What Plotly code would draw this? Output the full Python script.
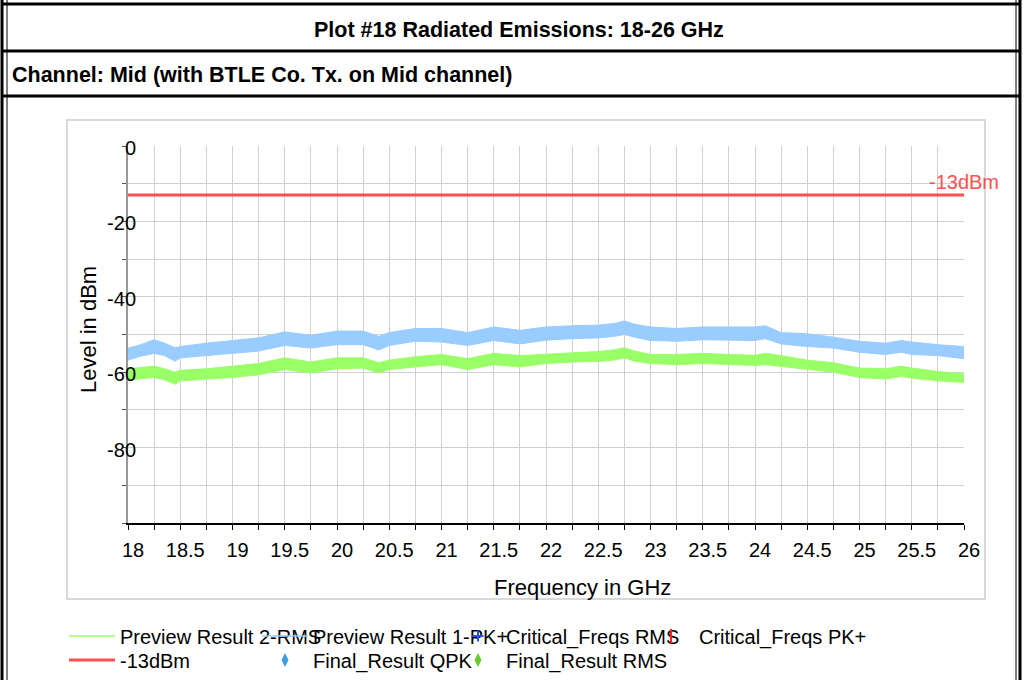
import plotly.graph_objects as go

# ---------------- data ----------------
freq_ghz = [18.0, 18.1, 18.25, 18.35, 18.45, 18.5, 18.75, 19.0, 19.25, 19.5, 19.75,
            20.0, 20.25, 20.4, 20.5, 20.75, 21.0, 21.25, 21.5, 21.75, 22.0, 22.25,
            22.5, 22.65, 22.75, 22.85, 23.0, 23.25, 23.5, 23.75, 24.0, 24.1, 24.25,
            24.5, 24.75, 25.0, 25.25, 25.4, 25.5, 25.75, 26.0]

# Preview Result 1-PK+ (light blue band): upper / lower envelope in dBm
pk_upper = [-53.6, -52.9, -51.4, -52.3, -53.5, -53.2, -52.3, -51.6, -50.9, -49.3, -50.2,
            -49.1, -49.1, -50.5, -49.5, -48.4, -48.4, -49.5, -48.0, -48.9, -48.0, -47.7,
            -47.5, -47.1, -46.4, -47.3, -48.0, -48.4, -48.0, -48.0, -48.0, -47.7, -49.5,
            -49.8, -50.7, -51.8, -52.3, -51.6, -52.0, -52.7, -53.2]
pk_lower = [-56.8, -55.9, -55.0, -55.6, -57.1, -56.2, -55.5, -55.0, -54.4, -52.9, -53.6,
            -52.7, -52.7, -54.1, -52.9, -51.8, -52.0, -52.9, -51.6, -52.5, -51.5, -51.1,
            -50.9, -50.5, -50.0, -50.7, -51.6, -51.8, -51.4, -51.6, -51.6, -51.1, -52.5,
            -53.2, -53.6, -54.7, -55.3, -54.7, -55.3, -55.6, -56.4]

# Preview Result 2-RMS (green band): upper / lower envelope in dBm
rms_upper = [-59.1, -58.9, -58.4, -59.1, -60.0, -59.5, -59.1, -58.4, -57.7, -56.2, -57.3,
             -56.2, -56.2, -57.5, -56.8, -55.9, -55.3, -56.4, -55.0, -55.6, -55.3, -55.0,
             -54.5, -54.1, -53.5, -54.4, -55.3, -55.3, -55.0, -55.3, -55.5, -55.0, -55.6,
             -56.8, -57.5, -58.9, -59.1, -58.4, -58.9, -59.8, -60.5]
rms_lower = [-62.3, -61.8, -61.4, -62.0, -63.2, -62.3, -61.8, -61.4, -60.7, -59.3, -60.2,
             -59.1, -58.9, -60.2, -59.3, -58.6, -58.0, -59.3, -58.0, -58.6, -57.7, -57.3,
             -57.1, -56.8, -56.2, -57.1, -57.7, -58.0, -57.7, -58.0, -58.2, -58.0, -58.4,
             -59.3, -60.0, -61.4, -61.8, -61.1, -61.6, -62.3, -62.7]

limit_dbm = -13
limit_label = "-13dBm"

# no points in these result tables
critical_rms_f, critical_rms_v = [], []
critical_pk_f, critical_pk_v = [], []
final_qpk_f, final_qpk_v = [], []
final_rms_f, final_rms_v = [], []

x_tick_vals = [18 + 0.25 * i for i in range(33)]
x_tick_text = ["18", "", "18.5", "", "19", "", "19.5", "", "20", "", "20.5", "", "21", "",
               "21.5", "", "22", "", "22.5", "", "23", "", "23.5", "", "24", "", "24.5", "",
               "25", "", "25.5", "", "26"]
y_tick_vals = [0, -10, -20, -30, -40, -50, -60, -70, -80, -90, -100]
y_tick_text = ["0", "", "-20", "", "-40", "", "-60", "", "-80", "", ""]

title_text = "Plot #18 Radiated Emissions: 18-26 GHz"
channel_text = "Channel: Mid (with BTLE Co. Tx. on Mid channel)"
x_title = "Frequency in GHz"
y_title = "Level in dBm"

# ---------------- styling ----------------
W, H = 1024, 680
PL, PR, PT, PB = 128, 964, 146, 523  # plot area in pixels
BLUE = "#99CCFF"
GREEN = "#99FF66"
RED = "#FF4F4F"
FONT = "Liberation Sans, Arial, sans-serif"
LEG_X0, LEG_PITCH, LEG_IW = 64, 193, 46
LEG_ROWS = [636, 660]


def px(x):
    return (x - PL) / (PR - PL)


def py(y):
    return (PB - y) / (PB - PT)


def pts(v):
    return v if v else [None]


fig = go.Figure()

fig.add_trace(go.Scatter(
    x=freq_ghz + freq_ghz[::-1], y=pk_upper + pk_lower[::-1], mode="lines",
    fill="toself", fillcolor=BLUE, line=dict(color=BLUE, width=1),
    showlegend=False, hoverinfo="skip"))
fig.add_trace(go.Scatter(
    x=freq_ghz + freq_ghz[::-1], y=rms_upper + rms_lower[::-1], mode="lines",
    fill="toself", fillcolor=GREEN, line=dict(color=GREEN, width=1),
    showlegend=False, hoverinfo="skip"))
fig.add_trace(go.Scatter(
    x=[freq_ghz[0], freq_ghz[-1]], y=[limit_dbm, limit_dbm], mode="lines",
    line=dict(color=RED, width=3), showlegend=False, hoverinfo="skip"))

# legend entries (one small legend per cell of the 4x2 legend grid)
fig.add_trace(go.Scatter(x=[None], y=[None], mode="lines", name="Preview Result 2-RMS",
                         line=dict(color=GREEN, width=1.5), legend="legend"))
fig.add_trace(go.Scatter(x=[None], y=[None], mode="lines", name="Preview Result 1-PK+",
                         line=dict(color=BLUE, width=1.5), legend="legend2"))
fig.add_trace(go.Scatter(x=pts(critical_rms_f), y=pts(critical_rms_v), mode="markers",
                         name="Critical_Freqs RMS", legend="legend3",
                         marker=dict(symbol="cross-thin", size=8,
                                     line=dict(color="#2255FF", width=2))))
fig.add_trace(go.Scatter(x=pts(critical_pk_f), y=pts(critical_pk_v), mode="markers",
                         name="Critical_Freqs PK+", legend="legend4",
                         marker=dict(symbol="line-ns", size=10,
                                     line=dict(color="#FF2222", width=2))))
fig.add_trace(go.Scatter(x=[None], y=[None], mode="lines", name=limit_label,
                         line=dict(color=RED, width=3), legend="legend5"))
fig.add_trace(go.Scatter(x=pts(final_qpk_f), y=pts(final_qpk_v), mode="markers",
                         name="Final_Result QPK", legend="legend6",
                         marker=dict(symbol="diamond-tall", size=10, color="#3D9BE0")))
fig.add_trace(go.Scatter(x=pts(final_rms_f), y=pts(final_rms_v), mode="markers",
                         name="Final_Result RMS", legend="legend7",
                         marker=dict(symbol="diamond-tall", size=10, color="#66CC33")))

shapes = []
# outer page borders
for x0, w in [(2, 3), (7, 1), (1016, 1), (1020, 3)]:
    shapes.append(dict(type="line", xref="paper", yref="paper", x0=px(x0), x1=px(x0),
                       y0=py(0), y1=py(H), line=dict(color="black", width=w)))
for y0, w in [(4, 3), (51, 3), (96, 3)]:
    shapes.append(dict(type="line", xref="paper", yref="paper", x0=px(2), x1=px(1021),
                       y0=py(y0), y1=py(y0), line=dict(color="black", width=w)))
# light chart frame
shapes.append(dict(type="rect", xref="paper", yref="paper", x0=px(67), x1=px(985),
                   y0=py(120), y1=py(599), line=dict(color="#D9D9D9", width=2)))

annotations = [
    dict(text=f"<b>{title_text}</b>", xref="paper", yref="paper", x=px(519), y=py(30),
         showarrow=False, xanchor="center", yanchor="middle",
         font=dict(family=FONT, size=21.5, color="black")),
    dict(text=f"<b>{channel_text}</b>", xref="paper", yref="paper", x=px(10), y=py(75),
         showarrow=False, xanchor="left", yanchor="middle",
         font=dict(family=FONT, size=21.5, color="black")),
    dict(text=x_title, xref="paper", yref="paper", x=px(582), y=py(587),
         showarrow=False, xanchor="center", yanchor="middle",
         font=dict(family=FONT, size=22, color="black")),
    dict(text=y_title, xref="paper", yref="paper", x=px(88), y=py(330), textangle=-90,
         showarrow=False, xanchor="center", yanchor="middle",
         font=dict(family=FONT, size=22, color="black")),
    dict(text=limit_label, x=freq_ghz[-1], y=limit_dbm, xref="x", yref="y",
         showarrow=False, xanchor="center", yanchor="bottom", yshift=0,
         font=dict(family=FONT, size=20, color=RED)),
]


def leg(col, row):
    return dict(orientation="v", x=px(LEG_X0 + col * LEG_PITCH), y=py(LEG_ROWS[row]),
                xanchor="left", yanchor="middle", itemwidth=LEG_IW,
                font=dict(family=FONT, size=20, color="black"),
                bgcolor="rgba(0,0,0,0)", borderwidth=0)


fig.update_layout(
    width=W, height=H,
    margin=dict(l=PL, r=W - PR, t=PT, b=H - PB, pad=0, autoexpand=False),
    paper_bgcolor="white", plot_bgcolor="white",
    font=dict(family=FONT, size=20, color="black"),
    shapes=shapes, annotations=annotations,
    legend=leg(0, 0), legend2=leg(1, 0), legend3=leg(2, 0), legend4=leg(3, 0),
    legend5=leg(0, 1), legend6=leg(1, 1), legend7=leg(2, 1),
    xaxis=dict(range=[18, 26], tickmode="array", tickvals=x_tick_vals, ticktext=x_tick_text,
               showgrid=True, gridcolor="#D0D0D0", gridwidth=1, zeroline=False,
               showline=True, linecolor="black", linewidth=1.5,
               ticks="outside", ticklen=5, tickcolor="black", tickwidth=1,
               ticklabelstandoff=3, ticklabelshift=5,
               tickfont=dict(family=FONT, size=20, color="black")),
    yaxis=dict(range=[-100, 0], tickmode="array", tickvals=y_tick_vals, ticktext=y_tick_text,
               showgrid=True, gridcolor="#D0D0D0", gridwidth=1, zeroline=False,
               showline=True, linecolor="#999999", linewidth=2,
               ticks="outside", ticklen=4, tickcolor="#555555", tickwidth=1,
               ticklabelstandoff=-18, ticklabelshift=2,
               tickfont=dict(family=FONT, size=20, color="black")),
)

fig.write_html("out.html", config={"displayModeBar": False},
               post_script="document.body.style.margin='0px';")
